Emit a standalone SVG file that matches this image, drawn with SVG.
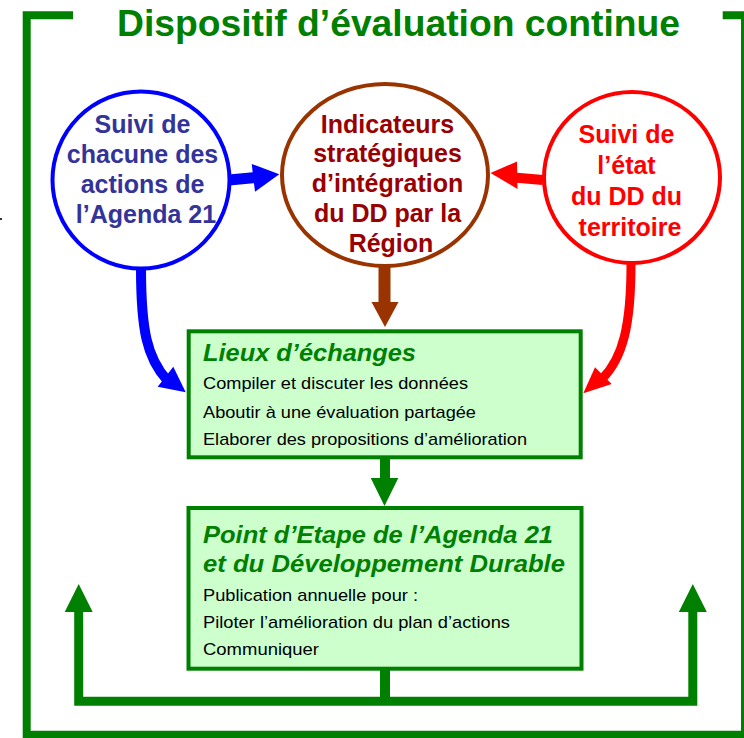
<svg xmlns="http://www.w3.org/2000/svg" width="744" height="738" viewBox="0 0 744 738">
  <style>
    .frame { fill: none; stroke: #008000; stroke-width: 8; stroke-linejoin: miter; }
    .title { font-family: "Liberation Sans", Arial, sans-serif; font-weight: bold; font-size: 36px; fill: #008000; }
    .ctext { font-family: "Liberation Sans", Arial, sans-serif; font-weight: bold; font-size: 25px; text-anchor: middle; }
    .box { fill: #CCFFCC; stroke: #008000; stroke-width: 4; }
    .btitle { font-family: "Liberation Sans", Arial, sans-serif; font-weight: bold; font-style: italic; font-size: 23px; fill: #008000; }
    .body { font-family: "Liberation Sans", Arial, sans-serif; font-size: 17px; fill: #000000; }
    .gline { fill: none; stroke: #008000; stroke-width: 9; stroke-linejoin: miter; }
  </style>

  <rect width="744" height="738" fill="#FFFFFF"/>
  <rect x="0" y="218" width="2" height="2" fill="#333333"/>

  <!-- outer frame -->
  <g id="frame">
    <path class="frame" d="M73,15.3 H26.7 V734.7 H745 V15.3 H722.7"/>
    <text class="title" x="117" y="36" textLength="563" lengthAdjust="spacingAndGlyphs">Dispositif d’évaluation continue</text>
  </g>

  <!-- connectors -->
  <g id="connectors">
    <!-- blue: follow-up to indicators -->
    <line x1="229" y1="180" x2="256" y2="177.5" stroke="#0000FF" stroke-width="11"/>
    <polygon points="251.7,164 279.3,174.3 255,191.7" fill="#0000FF"/>
    <!-- red: territory state to indicators -->
    <line x1="543" y1="180" x2="514" y2="177.5" stroke="#FF0000" stroke-width="10"/>
    <polygon points="517,161.5 490.5,173 517.5,189" fill="#FF0000"/>
    <!-- brown: indicators to exchanges -->
    <line x1="384.5" y1="266" x2="384.5" y2="303" stroke="#993300" stroke-width="12"/>
    <polygon points="371.5,302 398.5,302 385,327" fill="#993300"/>
    <!-- blue curve to exchanges -->
    <path d="M141,268 C141,330 147,358 167,380" fill="none" stroke="#0000FF" stroke-width="10"/>
    <polygon points="157.7,386.7 173.3,366.7 185.7,392.3" fill="#0000FF"/>
    <!-- red curve to exchanges -->
    <path d="M631,264 C631,325 623,358 602,379" fill="none" stroke="#FF0000" stroke-width="9"/>
    <polygon points="595,367.3 611.7,384 583.3,393.3" fill="#FF0000"/>
    <!-- green: exchanges to milestone -->
    <line x1="385" y1="459" x2="385" y2="480" stroke="#008000" stroke-width="10"/>
    <polygon points="370.7,478 398.3,478 384.5,506" fill="#008000"/>
    <!-- green feedback loop -->
    <path class="gline" d="M78.7,611 V701.2 H692.8 V611"/>
    <line x1="385" y1="669" x2="385" y2="701" stroke="#008000" stroke-width="10"/>
    <polygon points="64.7,612 78.7,584 92.7,612" fill="#008000"/>
    <polygon points="678.8,612 692.8,584 706.8,612" fill="#008000"/>
  </g>

  <g id="suivi-actions">
    <circle cx="141" cy="180" r="88.5" fill="#FFFFFF" stroke="#0000FF" stroke-width="4"/>
    <text class="ctext" fill="#333399">
      <tspan x="146" y="133">Suivi de</tspan>
      <tspan x="146" y="163">chacune des</tspan>
      <tspan x="146" y="193">actions de</tspan>
      <tspan x="146" y="223">l’Agenda 21</tspan>
    </text>
  </g>

  <g id="indicateurs">
    <ellipse cx="385" cy="175" rx="103" ry="91" fill="#FFFFFF" stroke="#993300" stroke-width="4"/>
    <text class="ctext" fill="#990000">
      <tspan x="391" y="133">Indicateurs</tspan>
      <tspan x="391" y="162">stratégiques</tspan>
      <tspan x="391" y="192">d’intégration</tspan>
      <tspan x="391" y="222">du DD par la</tspan>
      <tspan x="391" y="252">Région</tspan>
    </text>
  </g>

  <g id="suivi-territoire">
    <ellipse cx="632" cy="177.5" rx="88" ry="85.5" fill="#FFFFFF" stroke="#FF0000" stroke-width="4"/>
    <text class="ctext" fill="#FF0000">
      <tspan x="630" y="143">Suivi de</tspan>
      <tspan x="630" y="174">l’état</tspan>
      <tspan x="630" y="205">du DD du</tspan>
      <tspan x="630" y="236">territoire</tspan>
    </text>
  </g>

  <g id="lieux-echanges">
    <rect class="box" x="188.7" y="331.3" width="392" height="126"/>
    <text class="btitle" x="203" y="361" textLength="213" lengthAdjust="spacingAndGlyphs">Lieux d’échanges</text>
    <text class="body" x="203" y="389.3" textLength="265" lengthAdjust="spacingAndGlyphs">Compiler et discuter les données</text>
    <text class="body" x="203" y="417.7" textLength="273" lengthAdjust="spacingAndGlyphs">Aboutir à une évaluation partagée</text>
    <text class="body" x="203" y="445" textLength="324" lengthAdjust="spacingAndGlyphs">Elaborer des propositions d’amélioration</text>
  </g>

  <g id="point-etape">
    <rect class="box" x="188.5" y="508" width="393" height="160.7"/>
    <text class="btitle" x="203" y="543.3" textLength="350" lengthAdjust="spacingAndGlyphs">Point d’Etape de l’Agenda 21</text>
    <text class="btitle" x="203" y="571.7" textLength="362" lengthAdjust="spacingAndGlyphs">et du Développement Durable</text>
    <text class="body" x="203" y="600.7" textLength="215" lengthAdjust="spacingAndGlyphs">Publication annuelle pour :</text>
    <text class="body" x="203" y="627.7" textLength="307" lengthAdjust="spacingAndGlyphs">Piloter l’amélioration du plan d’actions</text>
    <text class="body" x="203" y="655" textLength="116" lengthAdjust="spacingAndGlyphs">Communiquer</text>
  </g>
</svg>
